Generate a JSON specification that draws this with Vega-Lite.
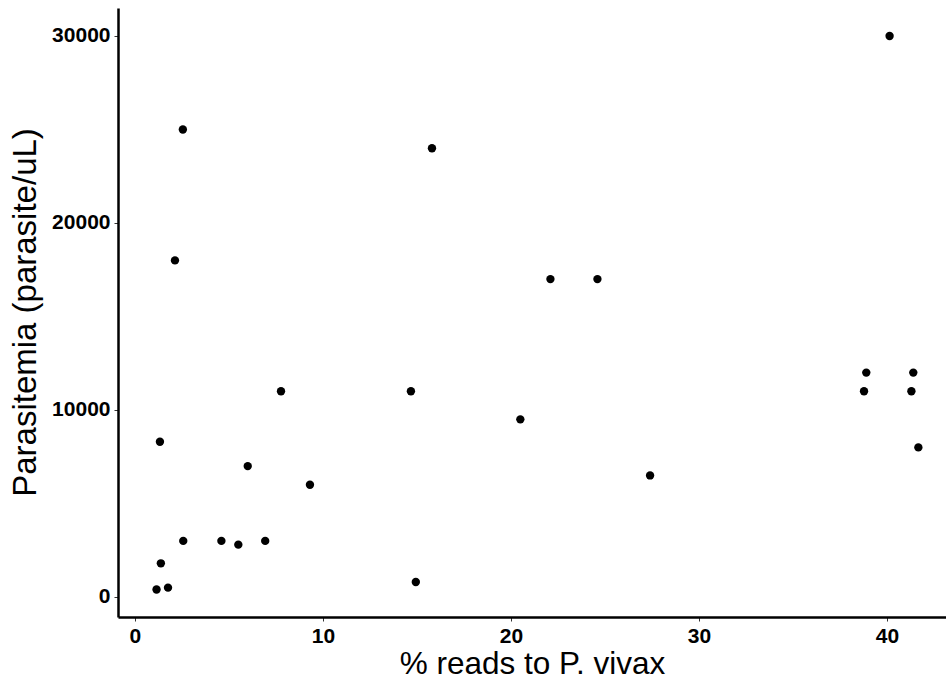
{
  "$schema": "https://vega.github.io/schema/vega-lite/v6.json",
  "width": 828,
  "height": 609,
  "autosize": "none",
  "padding": {"left": 118, "top": 8, "right": 0, "bottom": 64},
  "background": "white",
  "config": {
    "view": {"stroke": null},
    "font": "Liberation Sans"
  },
  "data": {
    "values": [
      {"pct": 1.15, "parasitemia": 400},
      {"pct": 1.76, "parasitemia": 500},
      {"pct": 1.38, "parasitemia": 1800},
      {"pct": 1.33, "parasitemia": 8300},
      {"pct": 2.13, "parasitemia": 18000},
      {"pct": 2.55, "parasitemia": 25000},
      {"pct": 2.57, "parasitemia": 3000},
      {"pct": 4.6, "parasitemia": 3000},
      {"pct": 5.5, "parasitemia": 2800},
      {"pct": 6.0, "parasitemia": 7000},
      {"pct": 6.93, "parasitemia": 3000},
      {"pct": 7.77, "parasitemia": 11000},
      {"pct": 9.31, "parasitemia": 6000},
      {"pct": 14.68, "parasitemia": 11000},
      {"pct": 14.94, "parasitemia": 800},
      {"pct": 15.8, "parasitemia": 24000},
      {"pct": 20.5, "parasitemia": 9500},
      {"pct": 22.1, "parasitemia": 17000},
      {"pct": 24.6, "parasitemia": 17000},
      {"pct": 27.4, "parasitemia": 6500},
      {"pct": 38.78, "parasitemia": 11000},
      {"pct": 38.9, "parasitemia": 12000},
      {"pct": 41.3, "parasitemia": 11000},
      {"pct": 41.4, "parasitemia": 12000},
      {"pct": 41.67, "parasitemia": 8000},
      {"pct": 40.14, "parasitemia": 30000}
    ]
  },
  "mark": {"type": "circle", "size": 70, "color": "black", "opacity": 1},
  "encoding": {
    "x": {
      "field": "pct",
      "type": "quantitative",
      "scale": {"domain": [-0.9, 43.14], "nice": false, "zero": false},
      "axis": {
        "title": "% reads to P. vivax",
        "values": [0, 10, 20, 30, 40],
        "grid": false,
        "domainColor": "black",
        "domainWidth": 2.5,
        "tickColor": "#333333",
        "tickSize": 4,
        "tickWidth": 1,
        "labelFont": "Liberation Sans",
        "labelFontWeight": "bold",
        "labelFontSize": 21,
        "labelColor": "black",
        "labelPadding": 4,
        "titleFont": "Liberation Sans",
        "titleFontWeight": "normal",
        "titleFontSize": 31.5,
        "titleColor": "black",
        "titleBaseline": "alphabetic",
        "titleY": 56
      }
    },
    "y": {
      "field": "parasitemia",
      "type": "quantitative",
      "scale": {"domain": [-1070, 31497], "nice": false, "zero": false},
      "axis": {
        "title": "Parasitemia (parasite/uL)",
        "values": [0, 10000, 20000, 30000],
        "format": "d",
        "grid": false,
        "domainColor": "black",
        "domainWidth": 2.5,
        "tickColor": "#333333",
        "tickSize": 4,
        "tickWidth": 1,
        "labelFont": "Liberation Sans",
        "labelFontWeight": "bold",
        "labelFontSize": 21,
        "labelColor": "black",
        "labelPadding": 4,
        "titleFont": "Liberation Sans",
        "titleFontWeight": "normal",
        "titleFontSize": 33,
        "titleColor": "black",
        "titleAngle": -90,
        "titleAlign": "center",
        "titleBaseline": "alphabetic",
        "titleX": -83,
        "titleY": 304
      }
    }
  }
}
